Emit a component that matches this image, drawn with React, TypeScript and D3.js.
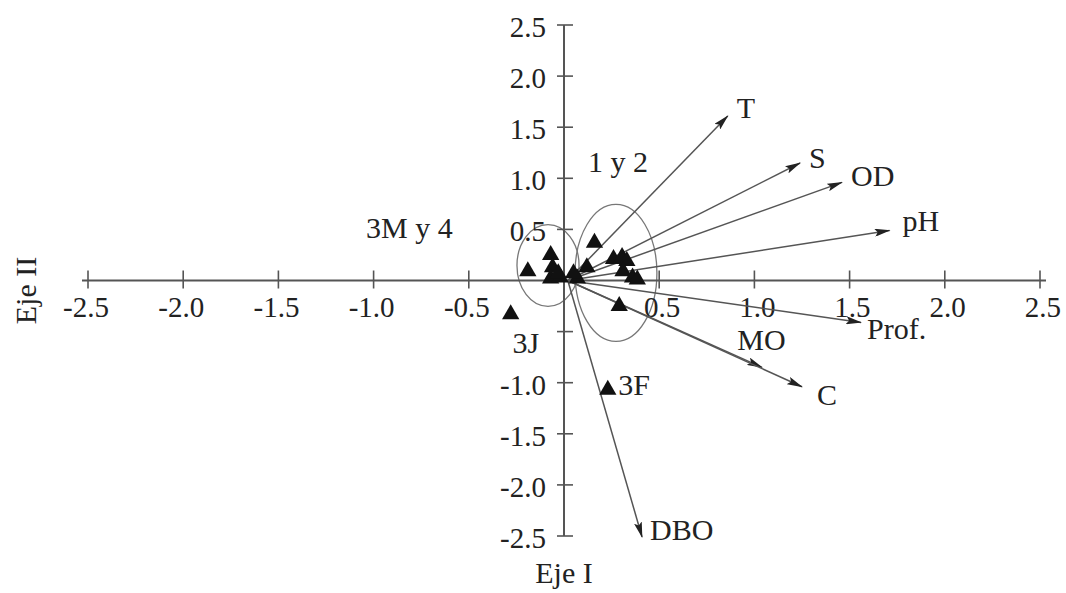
import React from "react";
import * as d3 from "d3";

const W = 1066;
const H = 593;

const ticks = [-2.5, -2.0, -1.5, -1.0, -0.5, 0.5, 1.0, 1.5, 2.0, 2.5];
const tickLabels = ["-2.5", "-2.0", "-1.5", "-1.0", "-0.5", "0.5", "1.0", "1.5", "2.0", "2.5"];
const yTickShown = [true, true, true, true, false, true, true, true, true, true];

const varNames = ["T", "S", "OD", "pH", "Prof.", "MO", "C", "DBO"];
const varX = [0.86, 1.24, 1.46, 1.71, 1.56, 1.04, 1.25, 0.41];
const varY = [1.61, 1.15, 0.96, 0.49, -0.41, -0.85, -1.04, -2.51];
const varShowLabel = [true, true, true, true, true, false, true, true];

const siteX = [0.16, -0.19, -0.07, -0.06, -0.07, -0.02, 0.12, 0.07, 0.26, 0.305, 0.33, 0.31, 0.36, 0.385, 0.29, -0.28, 0.23, -0.03, 0.05];
const siteY = [0.37, 0.09, 0.25, 0.13, 0.02, 0.03, 0.13, 0.02, 0.21, 0.23, 0.19, 0.09, 0.03, 0.01, -0.25, -0.33, -1.07, 0.07, 0.07];

const groupNames = ["3M y 4", "1 y 2"];
const groupCX = [-0.084, 0.273];
const groupCY = [0.147, 0.074];
const groupRX = [0.163, 0.215];
const groupRY = [0.4, 0.67];

const textLabels = ["3M y 4", "1 y 2", "3J", "3F", "MO"];
const textX = [-1.04, 0.126, -0.27, 0.285, 0.91];
const textY = [0.415, 1.06, -0.71, -1.12, -0.68];

export default function App() {
  const x = d3.scaleLinear().domain([-2.5, 2.5]).range([88, 1040]);
  const y = d3.scaleLinear().domain([-2.5, 2.5]).range([536, 25]);
  const x0 = x(0);
  const y0 = y(0);
  const font = "'Liberation Serif', 'DejaVu Serif', serif";
  const axisColor = "#555";
  const textColor = "#222";
  const tri = d3.symbol(d3.symbolTriangle, 130)();

  // label offsets for variables (relative to tip, in px)
  const labelDX = [9, 9, 9, 13, 6, 0, 15, 8];
  const labelDY = [2, 5, 4, 1, 17, 0, 18, 3];

  return (
    <svg width={W} height={H} style={{ position: "absolute", left: 0, top: 0, background: "#fff" }} fontFamily={font}>
      <defs>
        <marker id="ah" viewBox="0 0 16 8" refX="15" refY="4" markerWidth="16" markerHeight="8" markerUnits="userSpaceOnUse" orient="auto">
          <path d="M0,0 L16,4 L0,8 L3,4 z" fill="#222" />
        </marker>
      </defs>

      {/* ellipses */}
      {groupNames.map((g, i) => (
        <ellipse
          key={g}
          cx={x(groupCX[i])}
          cy={y(groupCY[i])}
          rx={x(groupRX[i]) - x(0)}
          ry={y(0) - y(groupRY[i])}
          fill="none"
          stroke="#777"
          strokeWidth={1.3}
        />
      ))}

      {/* X axis */}
      <line x1={x(-2.5) - 6} x2={x(2.5) + 6} y1={y0} y2={y0} stroke={axisColor} strokeWidth={2} />
      {ticks.map((t, i) => (
        <g key={"xt" + t}>
          <line x1={x(t)} x2={x(t)} y1={y0 - 10} y2={y0 + 8} stroke={axisColor} strokeWidth={1.6} />
          <text x={x(t) + 21} y={y0 + 36} textAnchor="end" fontSize={29} fill={textColor}>
            {tickLabels[i]}
          </text>
        </g>
      ))}

      {/* Y axis */}
      <line x1={x0} x2={x0} y1={y(2.5)} y2={y(-2.5)} stroke={axisColor} strokeWidth={2} />
      {ticks.map((t, i) => (
        <g key={"yt" + t}>
          <line x1={x0 - 7} x2={x0 + 9} y1={y(t)} y2={y(t)} stroke={axisColor} strokeWidth={1.6} />
          {yTickShown[i] ? (
            <text x={x0 - 18} y={y(t) + 12} textAnchor="end" fontSize={29} fill={textColor}>
              {tickLabels[i]}
            </text>
          ) : null}
        </g>
      ))}

      {/* variable arrows */}
      {varNames.map((v, i) => (
        <line
          key={"a" + v}
          x1={x(0.02)}
          y1={y(0)}
          x2={x(varX[i])}
          y2={y(varY[i])}
          stroke="#555"
          strokeWidth={1.5}
          markerEnd="url(#ah)"
        />
      ))}
      {varNames.map((v, i) =>
        varShowLabel[i] ? (
          <text key={"l" + v} x={x(varX[i]) + labelDX[i]} y={y(varY[i]) + labelDY[i]} fontSize={30} fill={textColor}>
            {v}
          </text>
        ) : null
      )}

      {/* sites */}
      {siteX.map((sx, i) => (
        <path key={"s" + i} d={tri || ""} transform={`translate(${x(sx)},${y(siteY[i])})`} fill="#111" />
      ))}

      {/* other labels */}
      {textLabels.map((t, i) => (
        <text key={"t" + t} x={x(textX[i])} y={y(textY[i])} fontSize={30} fill={textColor}>
          {t}
        </text>
      ))}

      {/* axis titles */}
      <text x={x0} y={583} textAnchor="middle" fontSize={30} fill={textColor}>
        Eje I
      </text>
      <text transform={`translate(36,${y0 + 10}) rotate(-90)`} textAnchor="middle" fontSize={30} fill={textColor}>
        Eje II
      </text>
    </svg>
  );
}
